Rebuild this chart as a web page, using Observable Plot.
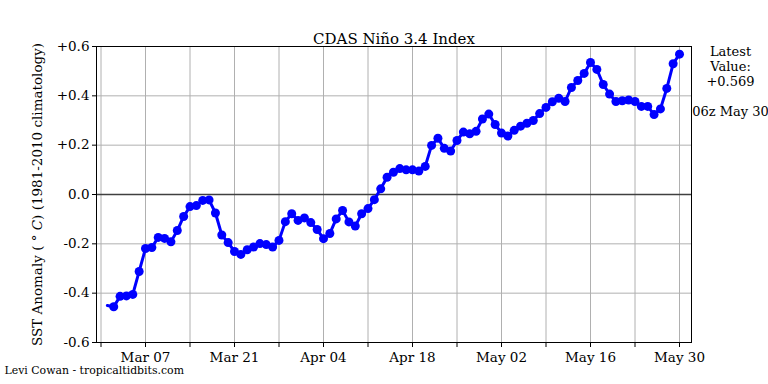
<!DOCTYPE html>
<html>
<head>
<meta charset="utf-8">
<script src="https://cdn.jsdelivr.net/npm/d3@7"></script>
<script src="https://cdn.jsdelivr.net/npm/@observablehq/plot@0.6"></script>
<style>
  html, body { margin: 0; padding: 0; background: #fff; overflow: hidden; }
  #chart svg { display: block; }
</style>
</head>
<body>
<div id="chart"></div>
<script>
// ---- data ----
const titleText = "CDAS Niño 3.4 Index";
const yLabel = "SST Anomaly ( ° C) (1981-2010 climatology)";
const creditText = "Levi Cowan - tropicaltidbits.com";
const latestLines = "Latest\nValue:\n+0.569";
const latestTime = "06z May 30";
const startDate = "2024-03-01"; // first daily value
const anomalies = [
  -0.450, -0.455, -0.413, -0.411, -0.405, -0.312, -0.219, -0.215, -0.174, -0.178,
  -0.192, -0.146, -0.089, -0.049, -0.045, -0.024, -0.022, -0.075, -0.164, -0.195,
  -0.231, -0.243, -0.224, -0.213, -0.199, -0.203, -0.213, -0.186, -0.110, -0.078,
  -0.105, -0.095, -0.114, -0.142, -0.179, -0.158, -0.099, -0.065, -0.111, -0.128,
  -0.078, -0.057, -0.021, +0.023, +0.070, +0.090, +0.105, +0.100, +0.100, +0.095,
  +0.114, +0.199, +0.228, +0.187, +0.176, +0.219, +0.253, +0.246, +0.256, +0.306,
  +0.326, +0.284, +0.249, +0.237, +0.260, +0.277, +0.289, +0.300, +0.328, +0.353,
  +0.376, +0.390, +0.377, +0.434, +0.462, +0.491, +0.535, +0.507, +0.446, +0.407,
  +0.377, +0.380, +0.383, +0.377, +0.357, +0.357, +0.324, +0.347, +0.430, +0.530,
  +0.569
];
const yTicks = [-0.6, -0.4, -0.2, 0, 0.2, 0.4, 0.6];
const xTickStart = "2024-02-29";
const xTickEnd = "2024-05-30";
const xDomain = ["2024-02-28T07:00Z", "2024-05-31T21:18Z"];

// ---- build ----
const day = 24 * 3600 * 1000;
const t0 = new Date(startDate + "T00:00Z");
const data = anomalies.map((v, i) => ({date: new Date(+t0 + i * day), value: v}));
const xTicks = d3.utcDays(new Date(xTickStart + "T00:00Z"), new Date(+new Date(xTickEnd + "T00:00Z") + 1), 7);
const labelFmt = d3.utcFormat("%b %d");
const labeled = new Set(xTicks.filter((d, i) => i % 2 === 1).map(d => +d));
const yFmt = d => d > 0 ? "+" + d.toFixed(1) : d === 0 ? "0.0" : d.toFixed(1);

const serif = "'DejaVu Serif', serif";

const chart = Plot.plot({
  width: 768,
  height: 384,
  marginLeft: 96,
  marginRight: 77,
  marginTop: 46,
  marginBottom: 42,
  style: {fontFamily: serif, fontSize: "13.5px", color: "#000", background: "#fff"},
  x: {type: "utc", domain: xDomain.map(s => new Date(s))},
  y: {domain: [-0.6, 0.6]},
  marks: [
    Plot.gridX(xTicks, {stroke: "#b0b0b0", strokeOpacity: 1, strokeWidth: 1}),
    Plot.gridY(yTicks, {stroke: "#b0b0b0", strokeOpacity: 1, strokeWidth: 1}),
    Plot.ruleY([0], {stroke: "#404040", strokeWidth: 1.5}),
    Plot.frame({stroke: "#000", strokeWidth: 1}),
    Plot.axisX(xTicks.filter(d => labeled.has(+d)), {
      tickSize: 5, tickPadding: 5, fontSize: 13.5,
      tickFormat: labelFmt,
      label: null
    }),
    Plot.tickX(xTicks.filter(d => !labeled.has(+d)), {
      frameAnchor: "bottom", y: null, dy: 0, stroke: "#000", strokeWidth: 1,
      insetTop: 296, insetBottom: -5
    }),
    Plot.axisY(yTicks, {
      tickSize: 4, tickPadding: 3, fontSize: 13.5,
      tickFormat: yFmt,
      label: yLabel, labelAnchor: "center", labelOffset: 64, labelArrow: "none"
    }),
    Plot.line(data, {x: "date", y: "value", stroke: "#0000ff", strokeWidth: 3}),
    Plot.dot(data.slice(1), {x: "date", y: "value", r: 4.5, fill: "#0000ff", stroke: "none"}),
    Plot.text([titleText], {frameAnchor: "top", dy: -13, fontSize: 15, fill: "#000"}),
    Plot.text([latestLines], {frameAnchor: "top-right", dx: 39, dy: -1, lineAnchor: "top", lineHeight: 1.15, fontSize: 13, textAnchor: "middle", fill: "#000"}),
    Plot.text([latestTime], {frameAnchor: "top-right", dx: 39, dy: 60, fontSize: 13, textAnchor: "middle", fill: "#000"}),
    Plot.text([creditText], {frameAnchor: "bottom-left", dx: -92, dy: 31, fontSize: 10.9, textAnchor: "start", fill: "#000"})
  ]
});

// italic C in the y label (matplotlib math text)
chart.querySelectorAll("text").forEach(t => {
  if (t.textContent === yLabel) {
    t.innerHTML = 'SST Anomaly ( ° <tspan font-style="italic">C</tspan>) (1981-2010 climatology)';
  }
});

document.getElementById("chart").appendChild(chart);
</script>
</body>
</html>
